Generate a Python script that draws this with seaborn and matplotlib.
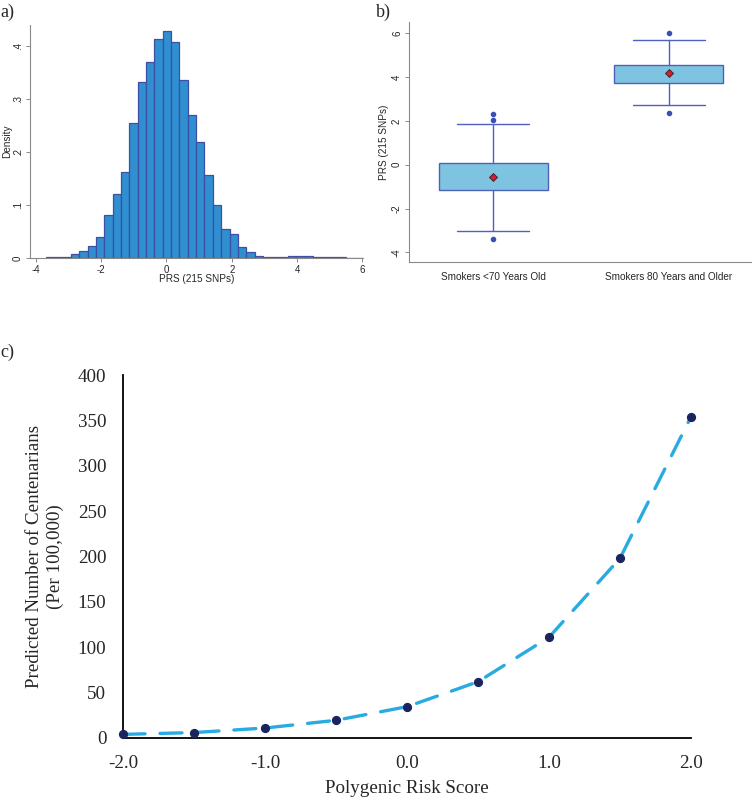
import matplotlib
matplotlib.use("Agg")
import matplotlib.pyplot as plt
import seaborn as sns
import numpy as np
import pandas as pd

sns.set_style("white")
plt.rcParams['font.family'] = ['Liberation Sans', 'DejaVu Sans']
plt.rcParams['axes.unicode_minus'] = False

# a) histogram of PRS (bin edges and densities read off the picture)
bin_start = -3.69
bin_width = 0.2555
densities = [0.002, 0.001, 0.002, 0.007, 0.014, 0.023, 0.040, 0.082, 0.121, 0.163,
             0.254, 0.333, 0.370, 0.414, 0.428, 0.408, 0.337, 0.270, 0.220, 0.157,
             0.101, 0.054, 0.046, 0.021, 0.012, 0.004, 0.001, 0.001, 0.001, 0.004,
             0.004, 0.004, 0.001, 0.001, 0.001, 0.001, 0.0006, 0.0006]
hist_xticks = [-4, -2, 0, 2, 4, 6]
hist_yticks = [0, 0.1, 0.2, 0.3, 0.4]
hist_ylabels = ['0', '.1', '.2', '.3', '.4']

# b) box plot summary stats
groups = ['Smokers <70 Years Old', 'Smokers 80 Years and Older']
q1 = [-1.15, 3.72]
q3 = [0.10, 4.55]
whislo = [-3.02, 2.73]
whishi = [1.88, 5.68]
means = [-0.58, 4.18]
medians = [-0.58, 4.18]
outliers = [[2.05, 2.33, -3.40], [6.02, 2.35]]
box_yticks = [-4, -2, 0, 2, 4, 6]

# c) predicted centenarians
prs = [-2.0, -1.5, -1.0, -0.5, 0.0, 0.5, 1.0, 1.5, 2.0]
centenarians = [4, 6, 11, 19.5, 34.5, 62, 111, 198, 354]
c_xticks = [-2.0, -1.0, 0.0, 1.0, 2.0]
c_yticks = [0, 50, 100, 150, 200, 250, 300, 350, 400]

W, H = 752, 797
fig = plt.figure(figsize=(W / 100, H / 100), dpi=100)

def frac(x0, y0, x1, y1):
    return [x0 / W, 1 - y1 / H, (x1 - x0) / W, (y1 - y0) / H]

grey = '#8a8a8a'

# ---- panel a
ax1 = fig.add_axes(frac(30, 25, 363, 258))
nbins = len(densities)
bin_end = bin_start + bin_width * nbins
centers = bin_start + bin_width * (np.arange(nbins) + 0.5)
dfa = pd.DataFrame({'prs': centers, 'density': densities})
sns.histplot(data=dfa, x='prs', weights='density', bins=nbins,
             binrange=(bin_start, bin_end), stat='count',
             color='#2f8fd0', edgecolor='#3f4fa6', linewidth=0.9, alpha=1, ax=ax1)
ax1.set_xlim(-4.18, 6.02)
ax1.set_ylim(0, 0.44)
ax1.set_xticks(hist_xticks)
ax1.set_yticks(hist_yticks)
ax1.set_yticklabels(hist_ylabels, rotation=90, va='center')
ax1.set_xlabel('PRS (215 SNPs)', fontsize=7.2, labelpad=-1)
ax1.set_ylabel('Density', fontsize=7.2, labelpad=1)

# ---- panel b
ax2 = fig.add_axes(frac(409, 22, 751, 262))
stats = []
for i in range(len(groups)):
    stats.append(dict(label=groups[i], q1=q1[i], q3=q3[i], med=medians[i],
                      mean=means[i], whislo=whislo[i], whishi=whishi[i],
                      fliers=outliers[i]))
ax2.bxp(stats, positions=[0, 1], widths=0.62, patch_artist=True, showmeans=True,
        boxprops=dict(facecolor='#7ec4e0', edgecolor='#5060b8', linewidth=1.0),
        whiskerprops=dict(color='#5060c0', linewidth=1.0),
        capprops=dict(color='#5060c0', linewidth=1.0),
        capwidths=0.41,
        medianprops=dict(visible=False),
        meanprops=dict(marker='D', markerfacecolor='#d02030', markeredgecolor='#3a1a1a',
                       markersize=4.5, markeredgewidth=0.6),
        flierprops=dict(marker='o', markerfacecolor='#3c50b4', markeredgecolor='#3c50b4',
                        markersize=3))
ax2.set_xlim(-0.48, 1.47)
ax2.set_ylim(-4.44, 6.52)
ax2.set_yticks(box_yticks)
ax2.set_yticklabels([str(t) for t in box_yticks], rotation=90, va='center')
ax2.set_xticks([0, 1])
ax2.set_xticklabels(groups, fontsize=7.2)
ax2.set_ylabel('PRS (215 SNPs)', fontsize=7.2, labelpad=2)

for ax in (ax1, ax2):
    for s in ('top', 'right'):
        ax.spines[s].set_visible(False)
    for s in ('left', 'bottom'):
        ax.spines[s].set_color(grey)
        ax.spines[s].set_linewidth(0.8)
    ax.tick_params(axis='both', which='both', direction='out', length=3, width=0.7,
                   color=grey, labelsize=7, pad=2, left=True, bottom=True)
ax2.tick_params(axis='x', length=0, pad=7, labelsize=7.2)

# ---- panel c
ax3 = fig.add_axes(frac(123, 375, 691, 738))
dfc = pd.DataFrame({'prs': prs, 'cent': centenarians})
sns.lineplot(data=dfc, x='prs', y='cent', color='#29abe2', linewidth=2.4,
             dashes=False, ax=ax3)
line = ax3.lines[0]
line.set_dashes((6.6, 4.5))
line.set_dash_capstyle('round')
line.set_clip_on(False)
sns.scatterplot(data=dfc, x='prs', y='cent', color='#1a2560', s=34,
                edgecolor='#1a2560', linewidth=0.8, zorder=5, clip_on=False, ax=ax3)
ax3.set_xlim(-2, 2)
ax3.set_ylim(0, 400)
ax3.set_xticks(c_xticks)
ax3.set_xticklabels([f'{t:.1f}' for t in c_xticks])
ax3.set_yticks(c_yticks)
for s in ('top', 'right'):
    ax3.spines[s].set_visible(False)
for s in ('left', 'bottom'):
    ax3.spines[s].set_color('black')
    ax3.spines[s].set_linewidth(1.3)
serif = ['Liberation Serif', 'DejaVu Serif']
ax3.tick_params(axis='x', length=0, labelsize=13.7, pad=12)
ax3.tick_params(axis='y', length=0, labelsize=13.7, pad=12)
for lab in ax3.get_xticklabels() + ax3.get_yticklabels():
    lab.set_family(serif)
ax3.set_xlabel('Polygenic Risk Score', fontsize=13.7, family=serif, labelpad=6)
ax3.set_ylabel('Predicted Number of Centenarians\n(Per 100,000)', fontsize=13.7,
               family=serif, labelpad=10, linespacing=1.25)

# panel labels
fig.text(0 / W, 1 - 12 / H, 'a)', family=serif, fontsize=13, va='center')
fig.text(376 / W, 1 - 12 / H, 'b)', family=serif, fontsize=13, va='center')
fig.text(0 / W, 1 - 352 / H, 'c)', family=serif, fontsize=13, va='center')

fig.savefig('out.png', dpi=100)
